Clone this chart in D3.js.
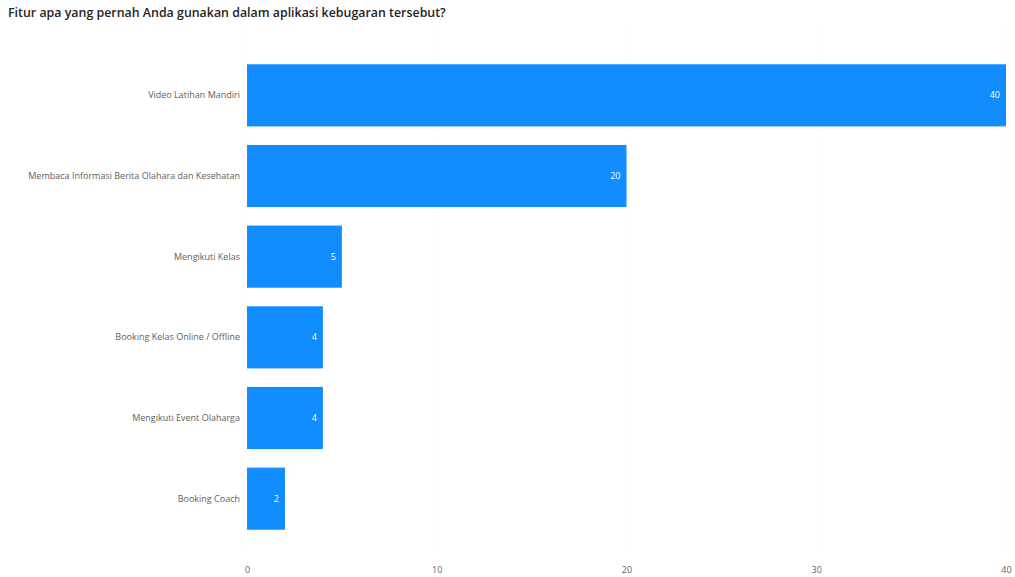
<!DOCTYPE html>
<html>
<head>
<meta charset="utf-8">
<script src="https://cdn.jsdelivr.net/npm/d3@7"></script>
<style>
  html, body { margin: 0; padding: 0; background: #fff; }
  svg { display: block; }
</style>
</head>
<body>
<svg id="chart" width="1015" height="577"></svg>
<script>
// Feature usage counts from the fitness-app survey
const categories = [
  "Video Latihan Mandiri",
  "Membaca Informasi Berita Olahara dan Kesehatan",
  "Mengikuti Kelas",
  "Booking Kelas Online / Offline",
  "Mengikuti Event Olaharga",
  "Booking Coach"
];
const counts = [40, 20, 5, 4, 4, 2];
const xTicks = [0, 10, 20, 30, 40];
const title = "Fitur apa yang pernah Anda gunakan dalam aplikasi kebugaran tersebut?";

const svg = d3.select("#chart");

const x = d3.scaleLinear().domain([0, 40]).range([247, 1006]);
const y = d3.scaleBand()
  .domain(categories)
  .range([55, 539])
  .paddingInner(0.23)
  .paddingOuter(0.115);

// Title
svg.append("text")
  .attr("x", 8)
  .attr("y", 17)
  .attr("font-family", "'Open Sans', sans-serif")
  .attr("font-weight", 600)
  .attr("font-size", 12.4)
  .attr("fill", "#252423")
  .text(title);

// Vertical gridlines
svg.append("g")
  .selectAll("line")
  .data(xTicks)
  .join("line")
  .attr("x1", d => x(d))
  .attr("x2", d => x(d))
  .attr("y1", 30)
  .attr("y2", 548)
  .attr("stroke", "#f0f0f0")
  .attr("stroke-width", 1)
  .attr("stroke-dasharray", "1,3");

// Bars
svg.append("g")
  .selectAll("rect")
  .data(categories)
  .join("rect")
  .attr("x", x(0))
  .attr("y", d => y(d))
  .attr("width", (d, i) => x(counts[i]) - x(0))
  .attr("height", y.bandwidth())
  .attr("fill", "#118DFF");

// Value labels inside bar ends
svg.append("g")
  .selectAll("text")
  .data(categories)
  .join("text")
  .attr("x", (d, i) => x(counts[i]) - 6)
  .attr("y", d => y(d) + y.bandwidth() / 2)
  .attr("dy", "0.35em")
  .attr("text-anchor", "end")
  .attr("font-family", "'Open Sans', sans-serif")
  .attr("font-size", 9)
  .attr("fill", "#ffffff")
  .text((d, i) => counts[i]);

// Category axis (left)
const yAxis = d3.axisLeft(y).tickSize(0).tickPadding(7);
const gy = svg.append("g")
  .attr("transform", `translate(${x(0)},0)`)
  .call(yAxis);
gy.select(".domain").remove();
gy.selectAll("text")
  .attr("font-family", "'Open Sans', sans-serif")
  .attr("font-size", 9)
  .attr("fill", "#605E5C");

// Value axis (bottom)
const xAxis = d3.axisBottom(x).tickValues(xTicks).tickSize(0).tickPadding(0);
const gx = svg.append("g")
  .attr("transform", "translate(0,567)")
  .call(xAxis);
gx.select(".domain").remove();
gx.selectAll("text")
  .attr("font-family", "'Open Sans', sans-serif")
  .attr("font-size", 9)
  .attr("fill", "#605E5C");
</script>
</body>
</html>
